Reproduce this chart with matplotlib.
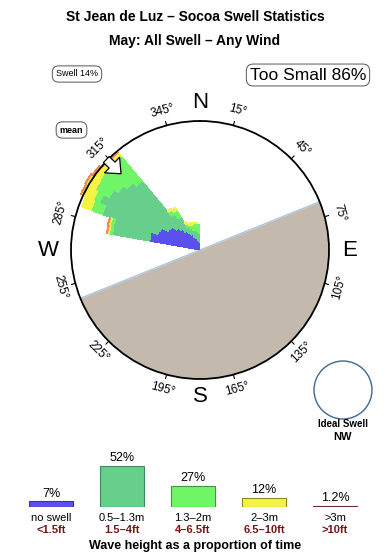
import numpy as np
import matplotlib
matplotlib.use('Agg')
import matplotlib.pyplot as plt
from matplotlib.patches import Ellipse

plt.rcParams['font.family'] = ['Liberation Sans', 'DejaVu Sans']

# swell rose: 5 degree direction bins, stacked size classes (rose scale, rim = 129)
RIM = 129
bin_dirs = [282.5, 287.5, 292.5, 297.5, 302.5, 307.5, 312.5, 317.5,
            322.5, 327.5, 332.5, 337.5, 342.5, 347.5, 352.5, 357.5]
no_swell = [51, 52, 45, 44, 37, 36, 31, 27, 23, 20, 17, 14, 12, 10, 9, 8]
h_05_13 = [38, 38, 59, 67, 68, 64, 64, 63, 21, 18, 9, 9, 9, 10, 10, 9]
h_13_2 = [3, 3, 12, 7, 16, 22, 27, 32, 5, 8, 3, 4, 5, 7, 8, 9]
h_2_3 = [2, 2, 10, 13, 11, 8, 6, 5, 2, 3, 2, 2, 3, 1, 1, 0]
h_3_up = [1, 1, 0, 1, 1, 1.5, 1, 1, 0, 0, 0, 0, 0, 0, 0, 0]

land_from, land_to = 68, 248
mean_dir = 314

# legend
cat_m = ['no swell', '0.5–1.3m', '1.3–2m', '2–3m', '>3m']
cat_ft = ['<1.5ft', '1.5–4ft', '4–6.5ft', '6.5–10ft', '>10ft']
cat_pct = [7, 52, 27, 12, 1.2]
cat_pct_txt = ['7%', '52%', '27%', '12%', '1.2%']

colors = ['#5c4ff0', '#66cf8c', '#70f567', '#f3f344', '#f08a5a']
leg_colors = ['#5c4ff0', '#66cf8c', '#70f567', '#f3f344', '#a0524a']
edge_colors = ['#3a30a8', '#3c8a5c', '#3e9a3a', '#8a8a20', '#6a2a2a']

W, H = 390, 560


def fx(x):
    return x / W


def fy(y):
    return 1 - y / H


fig = plt.figure(figsize=(W / 100, H / 100), dpi=100)

ax = fig.add_axes([fx(71), fy(379), 258 / W, 258 / H], projection='polar')
ax.set_theta_zero_location('N')
ax.set_theta_direction(-1)
ax.set_ylim(0, RIM)
ax.set_xticks([])
ax.set_yticks([])
ax.grid(False)
ax.spines['polar'].set_linewidth(1.3)
ax.spines['polar'].set_zorder(5)

# land
th = np.radians(np.linspace(land_from, land_to, 200))
ax.fill_between(th, 0, RIM, color='#c4b9ad', lw=0, zorder=1)
for d in (land_from, land_to):
    ax.plot([np.radians(d)] * 2, [0, RIM], color='#a9c6e2', lw=1, zorder=2)

# rose wedges
theta = np.radians(bin_dirs)
bottom = np.zeros(len(bin_dirs))
for vals, c in zip([no_swell, h_05_13, h_13_2, h_2_3, h_3_up], colors):
    vals = np.array(vals, dtype=float)
    ax.bar(theta, vals, width=np.radians(5), bottom=bottom, color=c,
           lw=0, antialiased=False, zorder=3, clip_on=False)
    bottom += vals

# mean arrow
ax.annotate('', xy=(np.radians(mean_dir), 107), xytext=(np.radians(mean_dir), 133),
            arrowprops=dict(arrowstyle='simple,head_length=0.75,head_width=1.3,tail_width=0.5',
                            fc='white', ec='black', lw=0.9, mutation_scale=12),
            zorder=6, annotation_clip=False)

# degree labels and ticks
for d in range(15, 360, 30):
    t = np.radians(d)
    ax.plot([t, t], [RIM, RIM + 4], color='black', lw=0.8, clip_on=False, zorder=5)
    rot = -d
    while rot < -90:
        rot += 180
    ax.text(t, RIM + 15, f'{d}°', rotation=rot, rotation_mode='anchor',
            ha='center', va='center', fontsize=8.5)

for lab, d, r in [('N', 0, 147), ('E', 90, 150), ('S', 180, 147), ('W', 270, 152)]:
    ax.text(np.radians(d), r, lab, ha='center', va='center', fontsize=16)

# titles and boxes
fig.text(0.5, fy(17), 'St Jean de Luz – Socoa Swell Statistics', ha='center', va='center',
         fontsize=10, fontweight='bold')
fig.text(0.5, fy(41), 'May: All Swell – Any Wind', ha='center', va='center',
         fontsize=10, fontweight='bold')
box = dict(boxstyle='round,pad=0.4,rounding_size=0.7', fc='white', ec='#555555', lw=0.7)
fig.text(fx(77), fy(74), 'Swell 14%', ha='center', va='center', fontsize=6.5, bbox=box)
fig.text(fx(308), fy(75), 'Too Small 86%', ha='center', va='center', fontsize=12.5,
         bbox=dict(boxstyle='round,pad=0.2,rounding_size=0.4', fc='white', ec='#555555', lw=0.7))
fig.text(fx(71.5), fy(130), 'mean', ha='center', va='center', fontsize=6.5, fontweight='bold',
         bbox=box)

# ideal swell
fig.patches.append(Ellipse((fx(343), fy(390)), 58 / W, 58 / H, transform=fig.transFigure,
                           fc='none', ec='#41678f', lw=1))
fig.text(fx(343), fy(424), 'Ideal Swell', ha='center', va='center', fontsize=7, fontweight='bold')
fig.text(fx(343), fy(437), 'NW', ha='center', va='center', fontsize=8, fontweight='bold')

# legend bars
lax = fig.add_axes([fx(15.5), fy(507), 355 / W, 47.4 / H])
lax.set_xlim(-0.5, 4.5)
lax.set_ylim(0, 60)
lax.axis('off')
xs = np.arange(len(cat_pct))
lax.bar(xs, cat_pct, width=0.62, color=leg_colors, edgecolor=edge_colors, lw=0.8)
for i in xs:
    lax.text(i, cat_pct[i] + 2, cat_pct_txt[i], ha='center', va='bottom', fontsize=9)
    lax.annotate(cat_m[i], (i, 0), xytext=(0, -8), textcoords='offset points',
                 ha='center', va='center', fontsize=8)
    lax.annotate(cat_ft[i], (i, 0), xytext=(0, -16.5), textcoords='offset points',
                 ha='center', va='center', fontsize=8, fontweight='bold', color='#7a1414')
fig.text(0.5, fy(546), 'Wave height as a proportion of time', ha='center', va='center',
         fontsize=9, fontweight='bold')

fig.savefig('out.png', dpi=100)
